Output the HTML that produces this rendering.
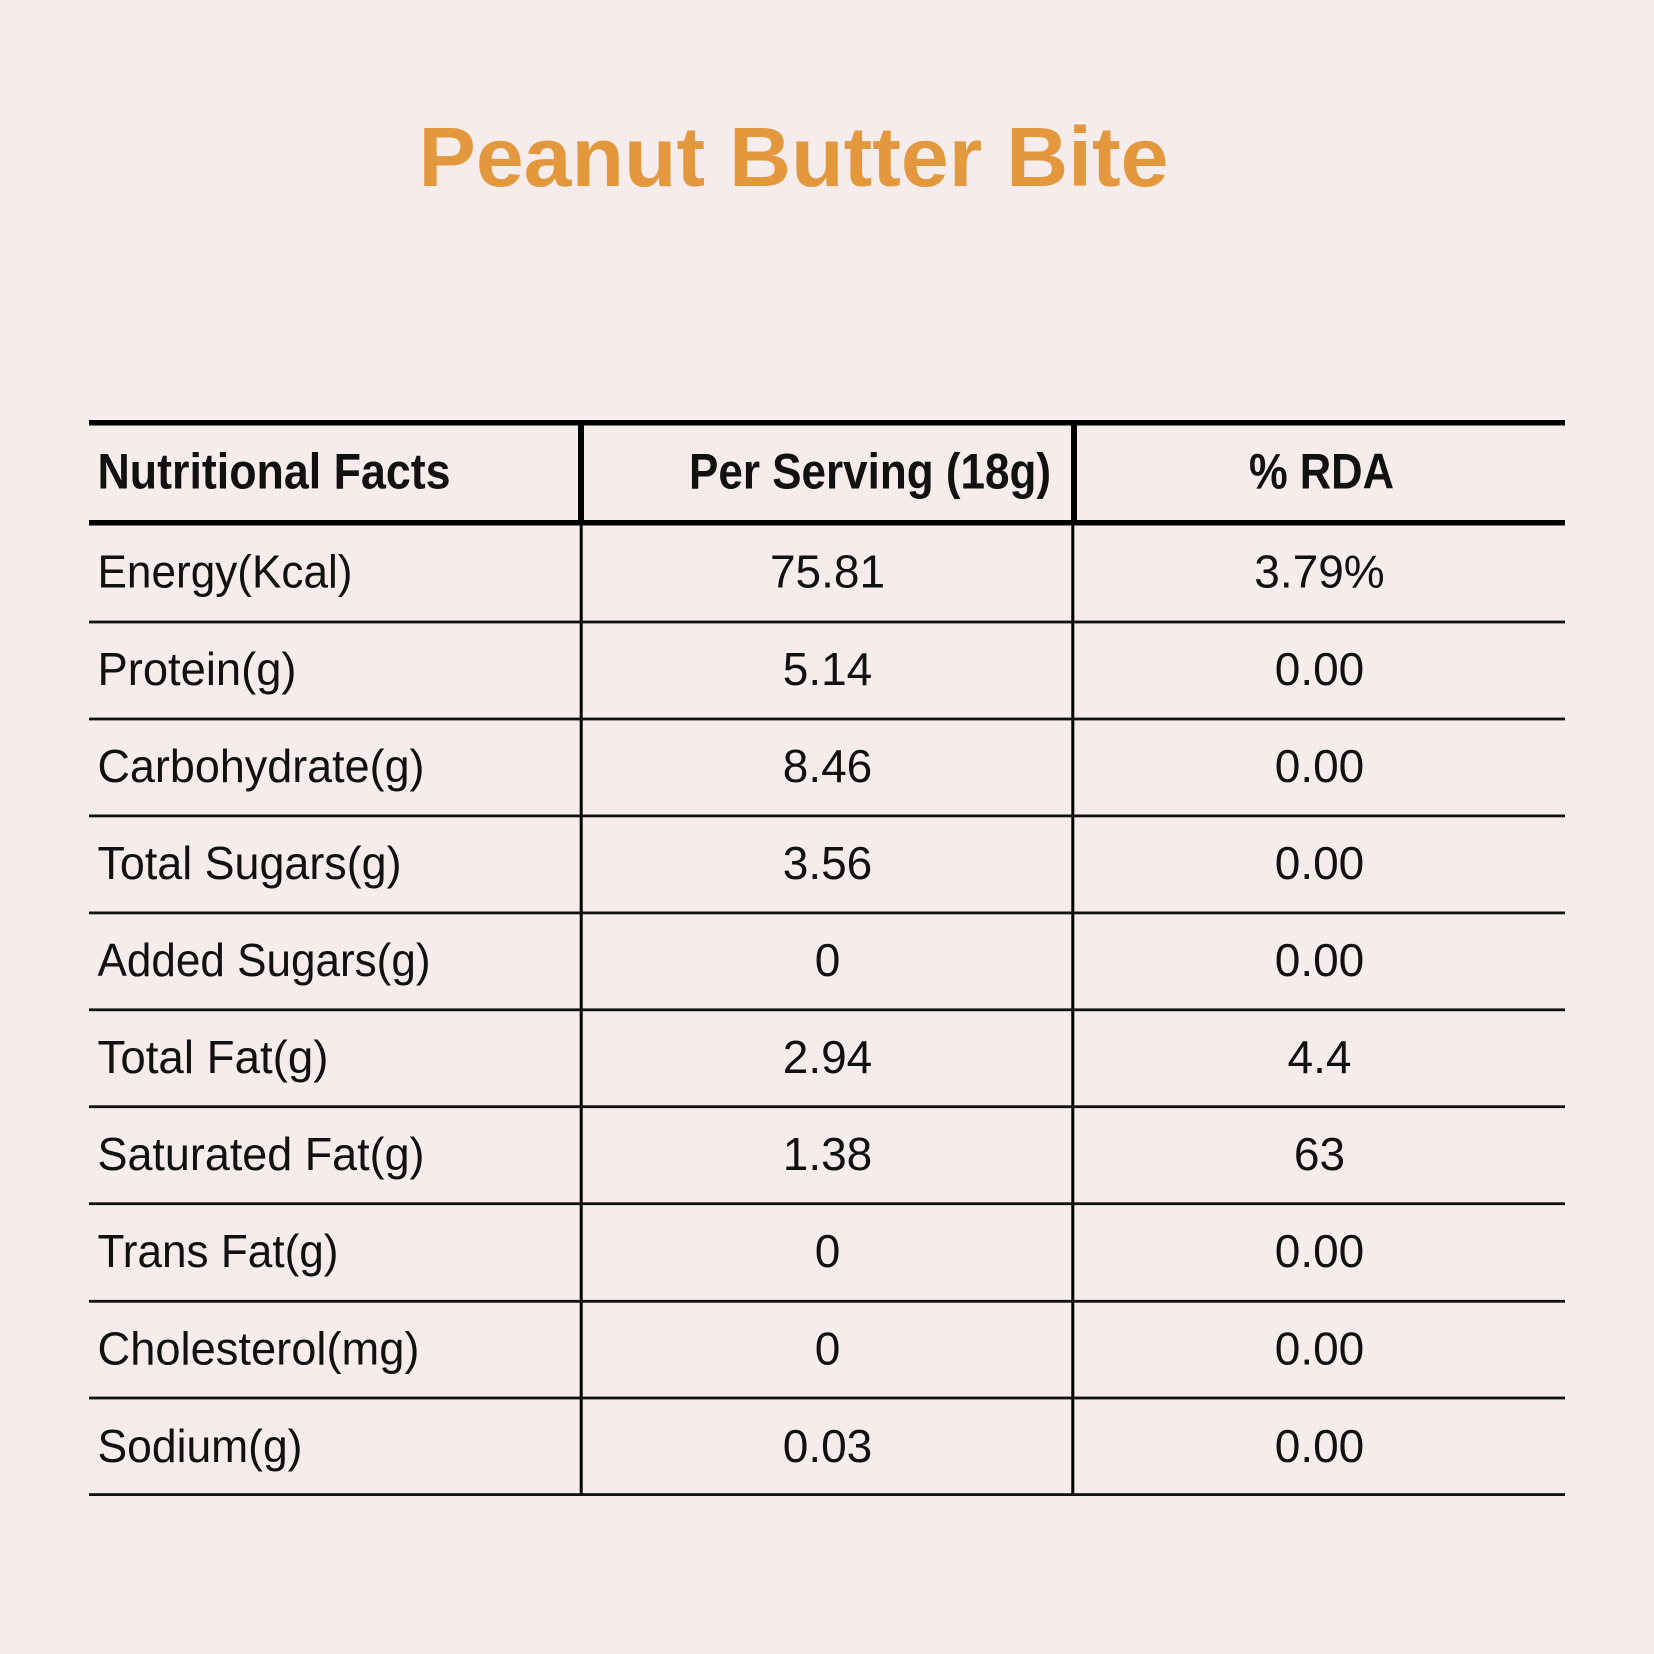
<!DOCTYPE html>
<html>
<head>
<meta charset="utf-8">
<style>
  html, body { margin: 0; padding: 0; background: #F5ECEB; }
  svg { display: block; }
  .t { font-family: "Liberation Sans", "DejaVu Sans", sans-serif; fill: #111; }
  .h { font-weight: bold; font-size: 50px; }
  .b { font-size: 46px; }
</style>
</head>
<body>
<svg width="1654" height="1654" viewBox="0 0 1654 1654" xmlns="http://www.w3.org/2000/svg">
  <rect x="0" y="0" width="1654" height="1654" fill="#F5ECEB"/>

  <!-- Title -->
  <text x="418.5" y="186" font-family="Liberation Sans, sans-serif" font-weight="bold" font-size="84" fill="#E3983E" textLength="750" lengthAdjust="spacingAndGlyphs">Peanut Butter Bite</text>

  <!-- Header thick lines -->
  <rect x="89" y="420" width="1476" height="5.5" fill="#000"/>
  <rect x="89" y="520" width="1476" height="5.5" fill="#000"/>
  <rect x="578" y="420" width="6" height="104" fill="#000"/>
  <rect x="1071" y="420" width="6" height="104" fill="#000"/>

  <!-- Body thin verticals -->
  <rect x="579.7" y="523" width="3" height="972" fill="#000"/>
  <rect x="1071.3" y="523" width="3" height="972" fill="#000"/>

  <!-- Body row lines -->
  <g fill="#111">
    <rect x="89" y="620.6" width="1476" height="2.8"/>
    <rect x="89" y="717.6" width="1476" height="2.8"/>
    <rect x="89" y="814.5" width="1476" height="2.8"/>
    <rect x="89" y="911.5" width="1476" height="2.8"/>
    <rect x="89" y="1008.4" width="1476" height="2.8"/>
    <rect x="89" y="1105.3" width="1476" height="2.8"/>
    <rect x="89" y="1202.3" width="1476" height="2.8"/>
    <rect x="89" y="1299.9" width="1476" height="2.8"/>
    <rect x="89" y="1396.6" width="1476" height="2.8"/>
    <rect x="89" y="1493.2" width="1476" height="2.8"/>
  </g>

  <!-- Header text -->
  <text class="t h" x="97.5" y="488.7" textLength="353" lengthAdjust="spacingAndGlyphs">Nutritional Facts</text>
  <text class="t h" x="689" y="488.7" textLength="362" lengthAdjust="spacingAndGlyphs">Per Serving (18g)</text>
  <text class="t h" x="1249" y="488.7" textLength="145" lengthAdjust="spacingAndGlyphs">% RDA</text>

  <!-- Left column -->
  <g class="t b">
    <text x="97.5" y="587.5" textLength="255" lengthAdjust="spacingAndGlyphs">Energy(Kcal)</text>
    <text x="97.5" y="685" textLength="199" lengthAdjust="spacingAndGlyphs">Protein(g)</text>
    <text x="97.5" y="782" textLength="327" lengthAdjust="spacingAndGlyphs">Carbohydrate(g)</text>
    <text x="97.5" y="879" textLength="304" lengthAdjust="spacingAndGlyphs">Total Sugars(g)</text>
    <text x="97.5" y="976" textLength="333" lengthAdjust="spacingAndGlyphs">Added Sugars(g)</text>
    <text x="97.5" y="1073" textLength="231" lengthAdjust="spacingAndGlyphs">Total Fat(g)</text>
    <text x="97.5" y="1170" textLength="327" lengthAdjust="spacingAndGlyphs">Saturated Fat(g)</text>
    <text x="97.5" y="1267" textLength="241" lengthAdjust="spacingAndGlyphs">Trans Fat(g)</text>
    <text x="97.5" y="1364.3" textLength="322" lengthAdjust="spacingAndGlyphs">Cholesterol(mg)</text>
    <text x="97.5" y="1462" textLength="205" lengthAdjust="spacingAndGlyphs">Sodium(g)</text>
  </g>

  <!-- Middle column -->
  <g class="t b" text-anchor="middle">
    <text x="827.5" y="587.5">75.81</text>
    <text x="827.5" y="685">5.14</text>
    <text x="827.5" y="782">8.46</text>
    <text x="827.5" y="879">3.56</text>
    <text x="827.5" y="976">0</text>
    <text x="827.5" y="1073">2.94</text>
    <text x="827.5" y="1170">1.38</text>
    <text x="827.5" y="1267">0</text>
    <text x="827.5" y="1364.3">0</text>
    <text x="827.5" y="1462">0.03</text>
  </g>

  <!-- Right column -->
  <g class="t b" text-anchor="middle">
    <text x="1319.5" y="587.5">3.79%</text>
    <text x="1319.5" y="685">0.00</text>
    <text x="1319.5" y="782">0.00</text>
    <text x="1319.5" y="879">0.00</text>
    <text x="1319.5" y="976">0.00</text>
    <text x="1319.5" y="1073">4.4</text>
    <text x="1319.5" y="1170">63</text>
    <text x="1319.5" y="1267">0.00</text>
    <text x="1319.5" y="1364.3">0.00</text>
    <text x="1319.5" y="1462">0.00</text>
  </g>
</svg>
</body>
</html>
